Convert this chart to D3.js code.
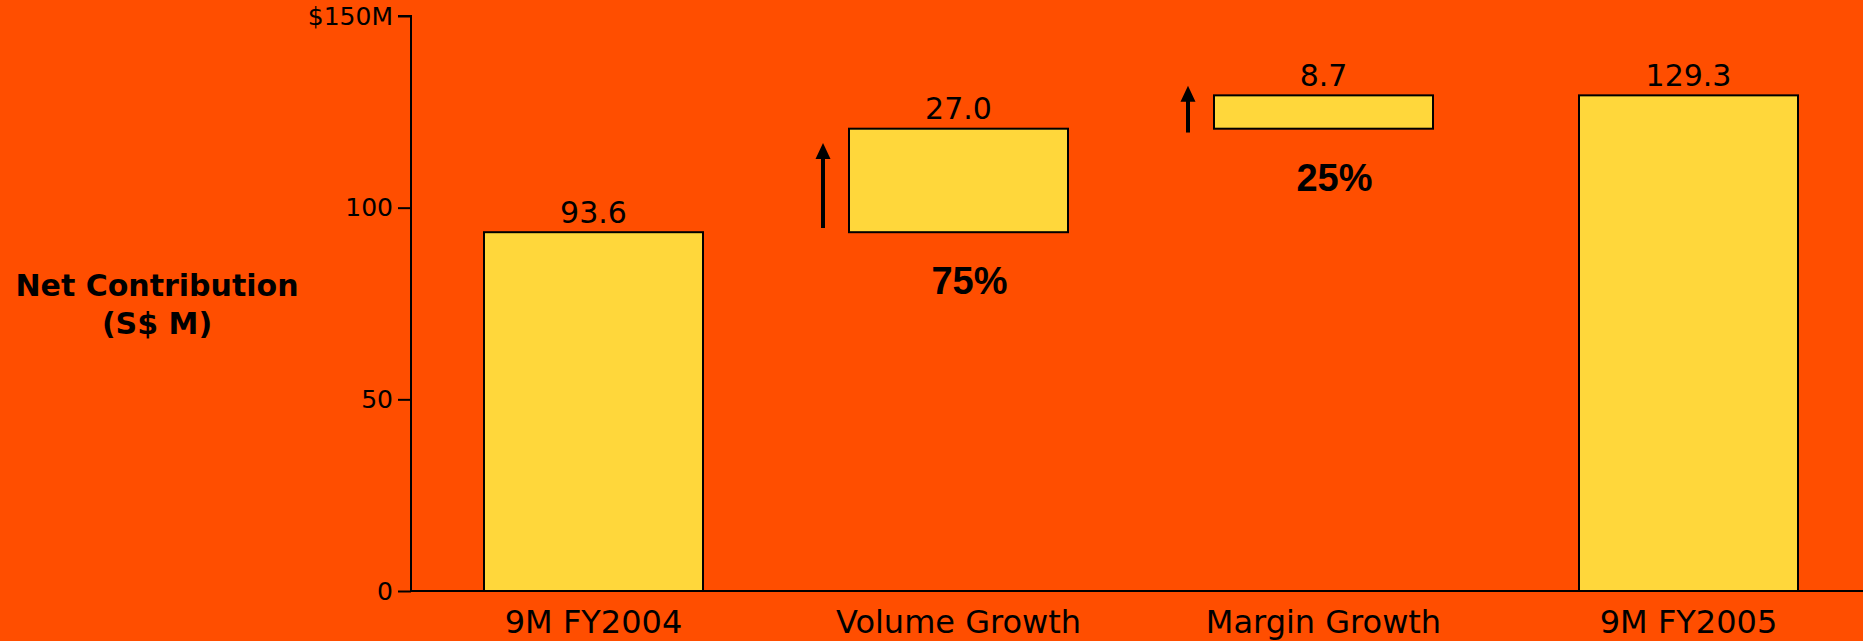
<!DOCTYPE html>
<html>
<head>
<meta charset="utf-8">
<script src="https://cdn.jsdelivr.net/npm/d3@7"></script>
<style>
  html, body { margin: 0; padding: 0; background: #FF4E00; overflow: hidden; }
  svg { display: block; }
</style>
</head>
<body>
<svg id="chart" width="1863" height="641"></svg>
<script>
// ---- data ----
const categories = ["9M FY2004", "Volume Growth", "Margin Growth", "9M FY2005"];
const barStart = [0, 93.6, 120.6, 0];
const barEnd = [93.6, 120.6, 129.3, 129.3];
const valueLabels = ["93.6", "27.0", "8.7", "129.3"];
const yTicks = [0, 50, 100, 150];
const yTickLabels = ["0", "50", "100", "$150M"];
const shareLabels = ["", "75%", "25%", ""];
const arrowFrom = [null, 94.7, 119.6, null];
const arrowTo = [null, 116.9, 131.8, null];
const axisTitle = ["Net Contribution", "(S$ M)"];

// ---- layout ----
const W = 1863, H = 641;
const mLeft = 411, mBottom = 591, mTop = 16;
const svg = d3.select("#chart");
svg.append("rect").attr("width", W).attr("height", H).attr("fill", "#FF4E00");

const x = d3.scaleBand().domain(categories).range([mLeft, 1871]).paddingInner(0.4).paddingOuter(0.2);
const y = d3.scaleLinear().domain([0, 150]).range([mBottom, mTop]);

// y axis
const yAxis = d3.axisLeft(y).tickValues(yTicks).tickSize(13).tickPadding(5)
  .tickFormat((d, i) => yTickLabels[i]);
const gy = svg.append("g").attr("transform", `translate(${mLeft},0)`).call(yAxis);
gy.select(".domain").attr("d", `M-13,${y(150)}H0V${y(0)}`).attr("stroke", "#000").attr("stroke-width", 2);
gy.selectAll(".tick line").attr("stroke", "#000").attr("stroke-width", 2);
gy.selectAll(".tick text").attr("font-family", "DejaVu Sans, Verdana, sans-serif")
  .attr("font-size", 25).attr("fill", "#000");

// bars
const idx = d3.range(categories.length);
svg.append("g").selectAll("rect").data(idx).join("rect")
  .attr("x", i => x(categories[i]))
  .attr("width", x.bandwidth())
  .attr("y", i => y(barEnd[i]))
  .attr("height", i => y(barStart[i]) - y(barEnd[i]))
  .attr("fill", "#FFD73B")
  .attr("stroke", "#000")
  .attr("stroke-width", 2);

// baseline over bars
svg.append("line").attr("x1", mLeft).attr("x2", W).attr("y1", y(0)).attr("y2", y(0))
  .attr("stroke", "#000").attr("stroke-width", 2);

// value labels
svg.append("g").selectAll("text").data(idx).join("text")
  .attr("x", i => x(categories[i]) + x.bandwidth() / 2)
  .attr("y", i => y(barEnd[i]) - 9.5)
  .attr("text-anchor", "middle")
  .attr("font-family", "DejaVu Sans, Verdana, sans-serif")
  .attr("font-size", 30)
  .attr("fill", "#000")
  .text(i => valueLabels[i]);

// category labels
svg.append("g").selectAll("text").data(idx).join("text")
  .attr("x", i => x(categories[i]) + x.bandwidth() / 2)
  .attr("y", 633)
  .attr("text-anchor", "middle")
  .attr("font-family", "DejaVu Sans, Verdana, sans-serif")
  .attr("font-size", 32)
  .attr("fill", "#000")
  .text(i => categories[i]);

// share labels
svg.append("g").selectAll("text").data(idx.filter(i => shareLabels[i])).join("text")
  .attr("x", i => x(categories[i]) + x.bandwidth() / 2 + 11)
  .attr("y", i => y(barStart[i]) + 62)
  .attr("text-anchor", "middle")
  .attr("font-family", "Liberation Sans, Arial, sans-serif")
  .attr("font-weight", "bold")
  .attr("font-size", 38)
  .attr("fill", "#000")
  .text(i => shareLabels[i]);

// arrows
const arrowIdx = idx.filter(i => arrowFrom[i] != null);
const ga = svg.append("g");
arrowIdx.forEach(i => {
  const ax = x(categories[i]) - 26;
  const y0 = y(arrowFrom[i]), y1 = y(arrowTo[i]);
  ga.append("line").attr("x1", ax).attr("x2", ax).attr("y1", y0).attr("y2", y1 + 14)
    .attr("stroke", "#000").attr("stroke-width", 4);
  ga.append("path").attr("d", `M${ax},${y1}L${ax - 7.5},${y1 + 16}L${ax + 7.5},${y1 + 16}Z`)
    .attr("fill", "#000");
});

// axis title
const t = svg.append("text")
  .attr("text-anchor", "middle")
  .attr("font-family", "DejaVu Sans, Verdana, sans-serif")
  .attr("font-weight", "bold")
  .attr("font-size", 30)
  .attr("fill", "#000");
t.append("tspan").attr("x", 157).attr("y", 296).text(axisTitle[0]);
t.append("tspan").attr("x", 157).attr("y", 334).text(axisTitle[1]);
</script>
</body>
</html>
